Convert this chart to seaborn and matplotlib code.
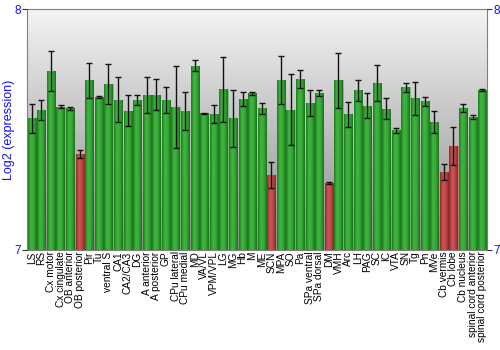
import numpy as np
import pandas as pd
import matplotlib
matplotlib.use("Agg")
import matplotlib.pyplot as plt
from matplotlib.colors import LinearSegmentedColormap
import seaborn as sns

regions = ["LS", "RS", "Cx motor", "Cx cingulate", "OB anterior", "OB posterior", "Pir", "Tu",
           "ventral S", "CA1", "CA2/CA3", "DG", "A anterior", "A posterior", "GP", "CPu lateral",
           "CPu medial", "MD", "VA/VL", "VPM/VPL", "LG", "MG", "Hb", "M", "ME", "SCN", "MPA", "SO",
           "Pa", "SPa ventral", "SPa dorsal", "DM", "VMH", "Arc", "LH", "PAG", "SC", "IC", "VTA",
           "SN", "Tg", "Pn", "MVe", "Cb vermis", "Cb lobe", "Cb nucleus", "spinal cord anterior",
           "spinal cord posterior"]
expression = [7.546, 7.581, 7.743, 7.595, 7.589, 7.397, 7.705, 7.636,
              7.689, 7.624, 7.578, 7.622, 7.644, 7.644, 7.622, 7.592,
              7.577, 7.765, 7.568, 7.564, 7.667, 7.546, 7.628, 7.650, 7.589, 7.311, 7.705, 7.582,
              7.711, 7.610, 7.651, 7.277, 7.704, 7.563, 7.663, 7.599, 7.693, 7.586, 7.497,
              7.676, 7.629, 7.617, 7.532, 7.324, 7.432, 7.589, 7.552,
              7.664]
error = [0.059, 0.043, 0.082, 0.007, 0.006, 0.017, 0.073, 0.004,
         0.085, 0.094, 0.065, 0.021, 0.075, 0.064, 0.055, 0.170,
         0.078, 0.022, 0.002, 0.037, 0.136, 0.119, 0.029, 0.007, 0.023, 0.056, 0.101, 0.147,
         0.037, 0.053, 0.011, 0.004, 0.115, 0.053, 0.044, 0.053, 0.075, 0.044, 0.011,
         0.019, 0.067, 0.019, 0.046, 0.033, 0.078, 0.018, 0.007,
         0.006]
low = ["OB posterior", "SCN", "DM", "Cb vermis", "Cb lobe"]

df = pd.DataFrame({"region": regions, "expression": expression, "error": error})
df["group"] = np.where(df["region"].isin(low), "low", "normal")

sns.set_theme(style="white")
plt.rcParams["font.family"] = ["Liberation Sans", "DejaVu Sans"]

fig = plt.figure(figsize=(5, 3.5), dpi=100)
ax = fig.add_axes([0.054, 0.286, 0.92, 0.688])

palette = {"normal": "#2e9e2e", "low": "#b84040"}
sns.barplot(data=df, x="region", y="expression", hue="group", palette=palette,
            dodge=False, legend=False, errorbar=None, width=0.86, ax=ax,
            edgecolor="none", order=regions)

ax.set_ylim(7, 8)
ax.set_xlim(-0.5, len(regions) - 0.5)

# background gradient
bg = LinearSegmentedColormap.from_list("bg", ["#8a8a8a", "#f4f4f4"])
grad = np.linspace(0, 1, 256).reshape(-1, 1)
ax.imshow(grad, cmap=bg, aspect="auto", extent=[0, 1, 0, 1], origin="lower",
          transform=ax.transAxes, zorder=0)

# bar gradients
green_cm = LinearSegmentedColormap.from_list("g", ["#1f7a1f", "#3fb83f", "#35a835", "#1d6e1d"])
red_cm = LinearSegmentedColormap.from_list("r", ["#8e2a2a", "#cc5555", "#bf4848", "#862626"])
hgrad = np.linspace(0, 1, 64).reshape(1, -1)
groups = list(df["group"])
for patch in list(ax.patches):
    x0 = patch.get_x()
    w = patch.get_width()
    h = patch.get_height()
    if not np.isfinite(h) or h <= 0:
        continue
    idx = int(round(x0 + w / 2))
    grp = groups[idx]
    cm = red_cm if grp == "low" else green_cm
    im = ax.imshow(hgrad, cmap=cm, aspect="auto", extent=[x0, x0 + w, 7, h],
                   zorder=2, interpolation="bilinear")
    im.set_clip_path(patch)
    patch.set_zorder(2)
    patch.set_edgecolor("#6fcf6f" if grp == "normal" else "#d87a7a")
    patch.set_linewidth(0.4)

ax.errorbar(np.arange(len(regions)), df["expression"], yerr=df["error"], fmt="none",
            ecolor="#111111", elinewidth=1.0, capsize=2.2, capthick=1.0, zorder=4)

ax.set_xlabel("")
ax.set_ylabel("Log2 (expression)", color="#1010ff", fontsize=9, va="center")
ax.yaxis.set_label_coords(-0.040, 0.5)
ax.set_yticks([7, 8])
ax.set_yticklabels(["7", "8"])
ax.tick_params(axis="y", colors="#333333", labelcolor="#1010ff", labelsize=8.5,
               length=3.5, width=0.8, left=True, right=True, labelright=True, pad=1)
ax.tick_params(axis="x", labelsize=7.3, rotation=90, length=0, pad=1, labelcolor="black")
for s in ax.spines.values():
    s.set_color("#808080")
    s.set_linewidth(0.8)
    s.set_visible(True)
ax.set_axisbelow(False)

fig.savefig("out.png", dpi=100)
